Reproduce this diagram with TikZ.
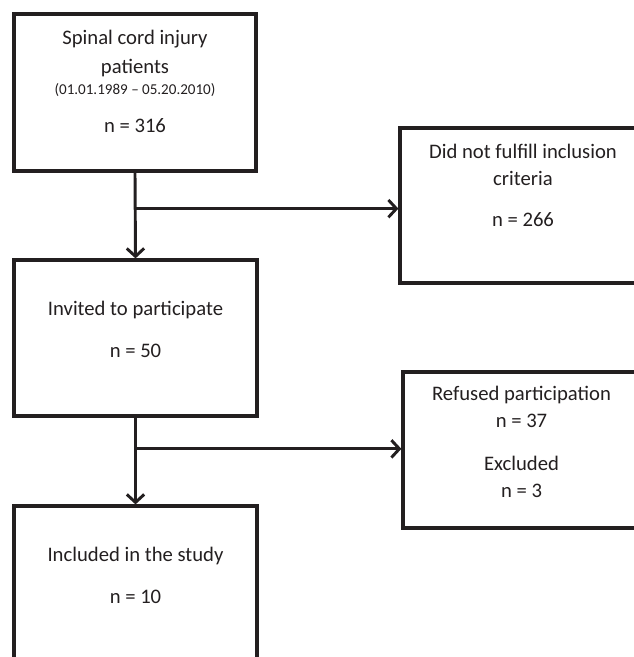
\documentclass[tikz,border=0pt]{standalone}
\usepackage{fontspec}
\setmainfont{Carlito}
\usetikzlibrary{arrows.meta,calc}
\definecolor{ink}{RGB}{35,31,32}
\begin{document}
\begin{tikzpicture}[x=0.75pt,y=-0.75pt,
    stage/.style={draw=ink,line width=2.4pt,minimum width=182.25pt,minimum height=117pt,inner sep=0pt},
    txt/.style={text=ink,align=center,inner sep=0pt,anchor=base,font=\fontsize{15.5}{20.25}\selectfont},
    arr/.style={draw=ink,line width=2.2pt,-{Straight Barb[length=6pt,width=13pt]}}]
        \useasboundingbox (0,0) rectangle (634,657);
        \clip (0,0) rectangle (634,657);

        \node[stage,minimum width=181.5pt,minimum height=117.75pt] (pat) at (135,92.5) {};
        \node[txt] (pattxt) at ([yshift=-90pt]pat.north) {Spinal cord injury\\[1.5pt] patients\\[-4.5pt]
            {\fontsize{11.3}{13}\selectfont (01.01.1989 -- 05.20.2010)}\\[8.25pt] n = 316};

        \node[stage,minimum width=184.5pt,minimum height=116.25pt] (crit) at (523,205.5) {};
        \node[txt] (crittxt) at ([yshift=-75pt]crit.north) {Did not fulfill inclusion\\ criteria\\[10.5pt] n = 266};

        \node[stage] (inv) at (135.5,338) {};
        \node[txt] (invtxt) at ([yshift=-74.25pt]inv.north) {Invited to participate\\[11pt] n = 50};

        \node[stage,minimum width=177.75pt] (ref) at (521.5,450) {};
        \node[txt] (reftxt) at ([yshift=-95.25pt]ref.north) {Refused participation\\ n = 37\\[12pt] Excluded\\ n = 3};

        \node[stage] (inc) at (135.5,584) {};
        \node[txt] (inctxt) at ([yshift=-74.25pt]inc.north) {Included in the study\\[11pt] n = 10};

        \coordinate (split1) at ($(pat.south)!0.42!(inv.north)$);
        \coordinate (split2) at ($(inv.south)!0.36!(inc.north)$);

        \draw[arr] (pat.south) -- (inv.north);
        \draw[arr] (split1) -- (split1 -| crit.west);
        \draw[arr] (inv.south) -- (inc.north);
        \draw[arr] (split2) -- (split2 -| ref.west);
    \end{tikzpicture}
\end{document}
